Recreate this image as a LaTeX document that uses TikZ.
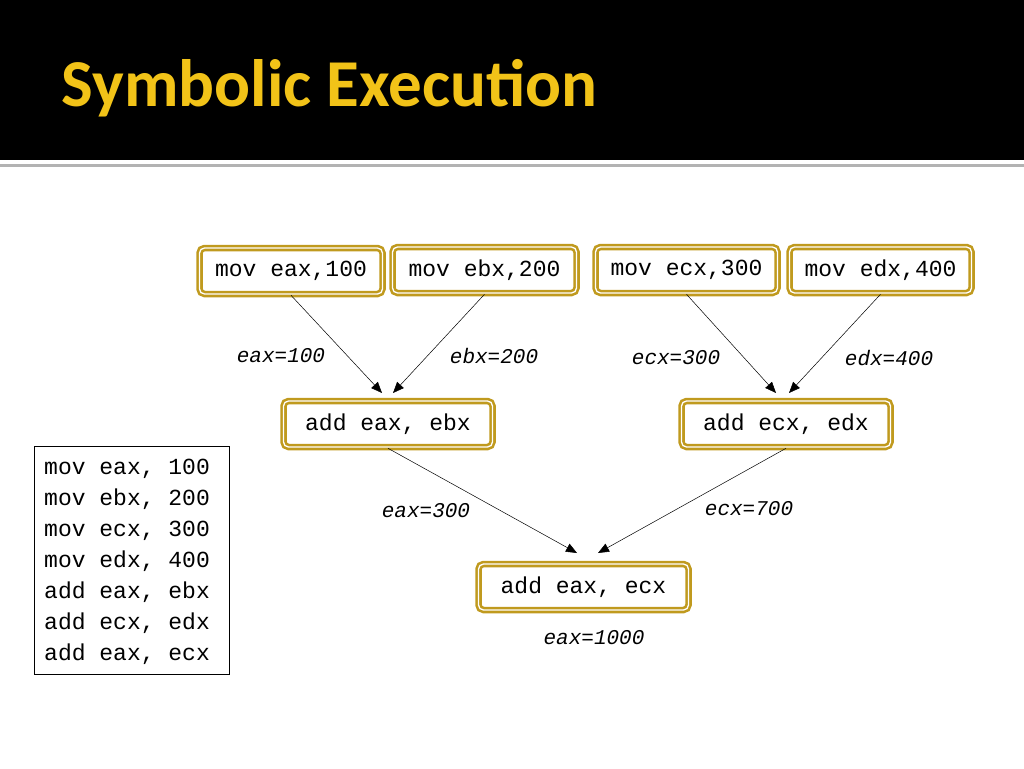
\documentclass[tikz,border=0pt]{standalone}
\usepackage{fontspec}
\setmainfont{Carlito}
\setmonofont{Liberation Mono}
\usetikzlibrary{arrows.meta}
\definecolor{gold}{HTML}{C09A1E}
\definecolor{titlegold}{HTML}{F2C318}
\begin{document}
\begin{tikzpicture}[x=1pt,y=-1pt,
  ibox/.style={draw=gold,double=white,double distance=1.3pt,line width=2.6pt,rounded corners=5pt,minimum height=46pt,inner sep=0pt,font=\fontsize{23}{23}\selectfont\ttfamily},
  lab/.style={font=\fontsize{21}{21}\selectfont\ttfamily\itshape},
  arr/.style={-{Triangle[length=11pt,width=9pt]},line width=0.5pt}]
\useasboundingbox (0,0) rectangle (1024,768);
\fill (0,0) rectangle (1024,160);
\fill[gray!60] (0,164) rectangle (1024,167);
\node[anchor=west,text=titlegold,font=\fontsize{67}{67}\selectfont\bfseries] (title) at (58,88) {Symbolic Execution};
\node[ibox,minimum width=183pt] (m1) at (291,271) {mov eax,100};
\node[ibox,minimum width=184pt] (m2) at (484.5,270) {mov ebx,200};
\node[ibox,minimum width=182pt] (m3) at (686.5,270) {mov ecx,300};
\node[ibox,minimum width=182pt] (m4) at (880.5,270) {mov edx,400};
\node[ibox,minimum width=209pt] (a1) at (388,424) {add eax, ebx};
\node[ibox,minimum width=209pt] (a2) at (786,424) {add ecx, edx};
\node[ibox,minimum width=210pt] (a3) at (583.5,587) {add eax, ecx};
\coordinate (t1) at (382,393);
\coordinate (t2) at (393,393);
\coordinate (t3) at (776,393);
\coordinate (t4) at (789,393);
\coordinate (t5) at (577,553);
\coordinate (t6) at (598,553);
\draw[arr] (m1.south) -- (t1);
\draw[arr] (m2.south) -- (t2);
\draw[arr] (m3.south) -- (t3);
\draw[arr] (m4.south) -- (t4);
\draw[arr] (a1.south) -- (t5);
\draw[arr] (a2.south) -- (t6);
\node[lab] (l1) at (281,356) {eax=100};
\node[lab] (l2) at (494,356) {ebx=200};
\node[lab] (l3) at (676,358) {ecx=300};
\node[lab] (l4) at (889,358) {edx=400};
\node[lab] (l5) at (426,511) {eax=300};
\node[lab] (l6) at (749,509) {ecx=700};
\node[lab] (l7) at (594,638) {eax=1000};
\draw[line width=0.6pt] (34,446) rectangle (229,674);
\node[anchor=west,font=\fontsize{23}{31}\selectfont\ttfamily,align=left,inner sep=0pt] (code) at (44,562) {mov eax, 100\\mov ebx, 200\\mov ecx, 300\\mov edx, 400\\add eax, ebx\\add ecx, edx\\add eax, ecx};
\end{tikzpicture}
\end{document}
